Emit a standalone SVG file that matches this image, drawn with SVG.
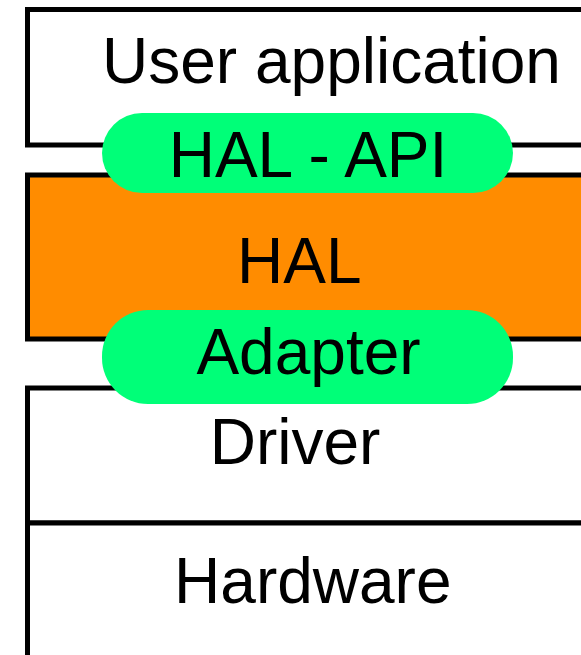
<svg xmlns="http://www.w3.org/2000/svg" width="581" height="655" viewBox="0 0 581 655">
<style>
.box{stroke:#000;stroke-width:5;fill:#fff}
.hal{fill:#FF8C00}
.pill{fill:#00FF78;stroke:none}
text{font-family:"Liberation Sans",Arial,sans-serif;font-size:64px;fill:#000;text-anchor:middle}
</style>
<rect width="581" height="655" fill="#fff"/>
<g id="user-app">
<rect class="box" x="27.5" y="9.5" width="600" height="135.5"/>
<text x="331.5" y="83">User application</text>
</g>
<g id="hal">
<rect class="box hal" x="27.5" y="175" width="600" height="164"/>
<text x="299.3" y="282.7">HAL</text>
</g>
<g id="driver">
<rect class="box" x="27.5" y="388" width="600" height="135"/>
<text x="295" y="464">Driver</text>
</g>
<g id="hardware">
<rect class="box" x="27.5" y="523" width="600" height="200"/>
<text x="312.8" y="602.7">Hardware</text>
</g>
<g id="hal-api">
<rect class="pill" x="102" y="113" width="411" height="80" rx="40" ry="40"/>
<text x="308" y="177">HAL - API</text>
</g>
<g id="adapter">
<rect class="pill" x="102" y="310" width="411" height="94" rx="46" ry="46"/>
<text x="308.5" y="374">Adapter</text>
</g>
<g id="connectors"></g>
</svg>
